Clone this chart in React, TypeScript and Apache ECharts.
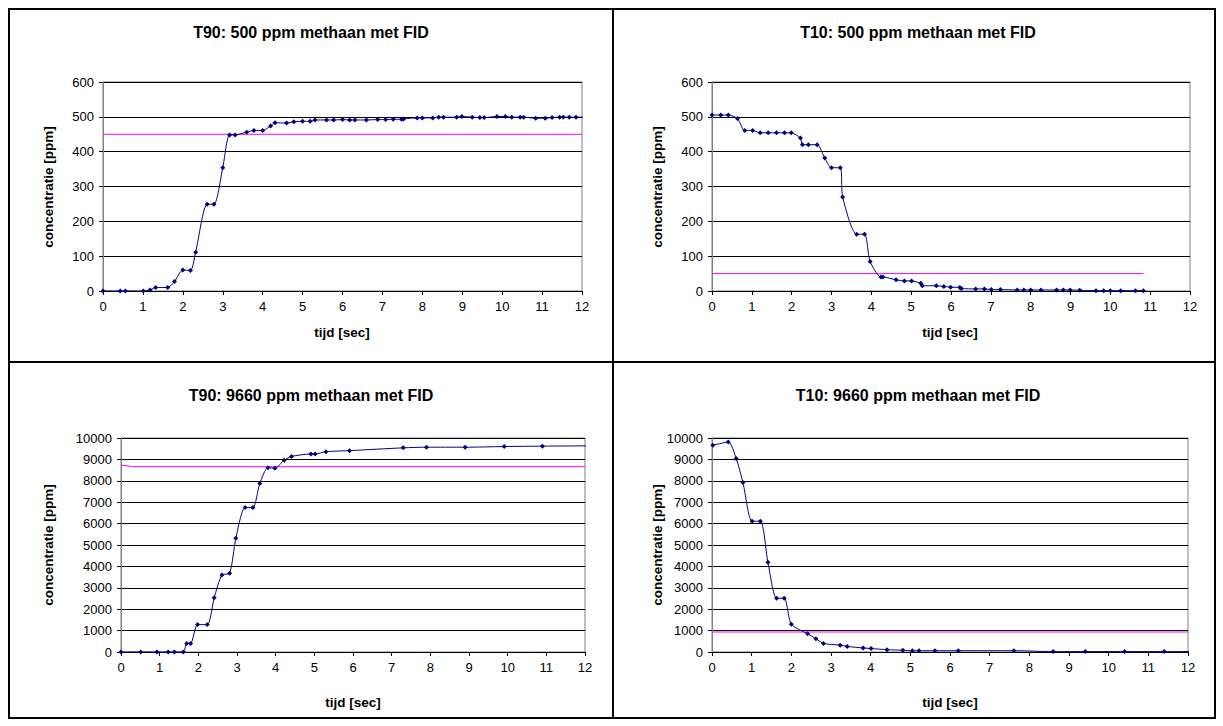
import React, { useEffect, useRef } from "react";
import * as echarts from "echarts";

// ---------- DATA ----------
const titles = [
  "T90: 500 ppm methaan met FID",
  "T10: 500 ppm methaan met FID",
  "T90: 9660 ppm methaan met FID",
  "T10: 9660 ppm methaan met FID",
];
const xAxisName = "tijd [sec]";
const yAxisName = "concentratie [ppm]";

const t90_500_time = [0, 0.43, 0.56, 1.01, 1.18, 1.32, 1.62, 1.79, 2.0, 2.19, 2.32, 2.61, 2.78, 3.0, 3.17, 3.31, 3.6, 3.78, 4.0, 4.2, 4.31, 4.6, 4.78, 5.0, 5.19, 5.31, 5.6, 5.78, 6.0, 6.18, 6.31, 6.6, 6.88, 7.08, 7.27, 7.48, 7.53, 7.87, 8.0, 8.26, 8.41, 8.53, 8.86, 8.99, 9.25, 9.44, 9.55, 9.87, 10.08, 10.24, 10.45, 10.54, 10.84, 11.08, 11.25, 11.44, 11.53, 11.68, 11.85, 12.2];
const t90_500_ppm = [0, 0, 0, 0, 3, 10, 10, 27, 60, 59, 111, 249, 249, 354, 448, 448, 456, 461, 461, 474, 483, 482, 486, 487, 487, 491, 491, 491, 492, 491, 491, 491, 492, 492, 493, 493, 494, 497, 497, 497, 499, 499, 499, 501, 499, 498, 498, 501, 501, 499, 499, 499, 496, 496, 498, 499, 499, 499, 499, 499];
const t90_500_limit = [[0, 450], [12, 450]];

const t10_500_time = [0, 0.22, 0.41, 0.64, 0.82, 1.02, 1.21, 1.41, 1.62, 1.82, 1.99, 2.22, 2.27, 2.42, 2.64, 2.83, 3.0, 3.22, 3.28, 3.63, 3.83, 3.97, 4.24, 4.29, 4.62, 4.83, 5.01, 5.24, 5.28, 5.63, 5.82, 5.99, 6.22, 6.26, 6.62, 6.84, 7.01, 7.24, 7.66, 7.83, 8.0, 8.26, 8.65, 8.82, 8.99, 9.23, 9.64, 9.83, 10.0, 10.26, 10.63, 10.83];
const t10_500_ppm = [505, 505, 505, 495, 461, 461, 454, 454, 454, 454, 454, 439, 420, 420, 420, 382, 354, 354, 270, 163, 163, 85, 40, 40, 32, 29, 29, 22, 15, 15, 13, 11, 10, 7, 6, 6, 4, 4, 3, 3, 3, 3, 3, 3, 3, 2, 1, 1, 1, 1, 1, 1];
const t10_500_limit = [[0, 50], [10.83, 50]];

const t90_9660_time = [0, 0.51, 0.93, 1.22, 1.38, 1.61, 1.7, 1.8, 1.98, 2.23, 2.41, 2.61, 2.81, 2.97, 3.21, 3.41, 3.59, 3.8, 3.98, 4.22, 4.41, 4.91, 5.02, 5.3, 5.91, 7.3, 7.9, 8.9, 9.91, 10.9, 12.3];
const t90_9660_ppm = [0, 0, 0, 0, 0, 0, 400, 400, 1280, 1280, 2530, 3600, 3680, 5310, 6750, 6750, 7870, 8610, 8590, 8960, 9140, 9250, 9250, 9360, 9410, 9540, 9570, 9570, 9600, 9620, 9635];
const t90_9660_limit = [[0, 8740], [0.3, 8660], [12, 8660]];

const t10_9660_time = [0.02, 0.41, 0.61, 0.78, 1.01, 1.22, 1.41, 1.63, 1.82, 2.0, 2.41, 2.62, 2.81, 3.23, 3.41, 3.81, 4.01, 4.41, 4.81, 5.05, 5.22, 5.62, 6.21, 7.61, 8.6, 9.41, 10.4, 11.4, 12.3];
const t10_9660_ppm = [9660, 9810, 9040, 7920, 6110, 6110, 4190, 2510, 2510, 1300, 850, 620, 400, 320, 260, 190, 160, 110, 80, 60, 60, 60, 60, 60, 20, 20, 20, 20, 20];
const t10_9660_limit = [[0, 935], [12, 935]];

const yMax = [600, 600, 10000, 10000];
const yStep = [100, 100, 1000, 1000];

const zip = (a: number[], b: number[]) => a.map((v, i) => [v, b[i]]);
const seriesData = [
  zip(t90_500_time, t90_500_ppm),
  zip(t10_500_time, t10_500_ppm),
  zip(t90_9660_time, t90_9660_ppm),
  zip(t10_9660_time, t10_9660_ppm),
];
const limitData = [t90_500_limit, t10_500_limit, t90_9660_limit, t10_9660_limit];

// ---------- LAYOUT ----------
const FONT = '"Liberation Sans", Arial, sans-serif';
const grids = [
  { left: 103, top: 82, width: 479, height: 209 },
  { left: 712, top: 82, width: 478, height: 209 },
  { left: 121, top: 438, width: 464, height: 214 },
  { left: 712, top: 438, width: 476, height: 214 },
];
const titlePos = [
  [311, 32], [918, 32], [311, 395], [918, 395],
];
const xNamePos = [
  [342, 332], [950, 332], [353, 702], [950, 702],
];
const yNamePos = [
  [48, 187], [657, 187], [48, 545], [657, 545],
];

export default function App() {
  const ref = useRef<HTMLDivElement>(null);
  useEffect(() => {
    const chart = echarts.init(ref.current!, null, { renderer: "svg" });
    const graphic: any[] = [
      { type: "rect", shape: { x: 9, y: 9, width: 1206, height: 709 }, style: { fill: "none", stroke: "#000", lineWidth: 2 } },
      { type: "line", shape: { x1: 613, y1: 9, x2: 613, y2: 718 }, style: { stroke: "#000", lineWidth: 2 } },
      { type: "line", shape: { x1: 9, y1: 362, x2: 1215, y2: 362 }, style: { stroke: "#000", lineWidth: 2 } },
    ];
    for (let i = 0; i < 4; i++) {
      graphic.push({
        type: "text", x: titlePos[i][0], y: titlePos[i][1],
        style: { text: titles[i], font: `bold 16px ${FONT}`, fill: "#000", align: "center", verticalAlign: "middle" },
      });
      graphic.push({
        type: "text", x: xNamePos[i][0], y: xNamePos[i][1],
        style: { text: xAxisName, font: `bold 13.5px ${FONT}`, fill: "#000", align: "center", verticalAlign: "middle" },
      });
      graphic.push({
        type: "text", x: yNamePos[i][0], y: yNamePos[i][1], rotation: Math.PI / 2,
        style: { text: yAxisName, font: `bold 13.5px ${FONT}`, fill: "#000", align: "center", verticalAlign: "middle" },
      });
    }
    const option: any = {
      animation: false,
      backgroundColor: "#fff",
      textStyle: { fontFamily: FONT },
      graphic,
      grid: grids.map((g) => ({ ...g, show: true, borderColor: "#808080", borderWidth: 1, backgroundColor: "transparent" })),
      xAxis: grids.map((_, i) => ({
        gridIndex: i, type: "value", min: 0, max: 12, interval: 1,
        axisLine: { show: true, onZero: false, lineStyle: { color: "#000", width: 1 } },
        axisTick: { show: true, inside: false, length: 4, lineStyle: { color: "#000" } },
        axisLabel: { color: "#000", fontSize: 13, fontFamily: FONT, margin: 9, formatter: (v: number) => String(v) },
        splitLine: { show: false },
      })),
      yAxis: grids.map((_, i) => ({
        gridIndex: i, type: "value", min: 0, max: yMax[i], interval: yStep[i],
        axisLine: { show: true, lineStyle: { color: "#808080", width: 1 } },
        axisTick: { show: true, inside: false, length: 4, lineStyle: { color: "#000" } },
        axisLabel: { color: "#000", fontSize: 13, fontFamily: FONT, margin: 9, formatter: (v: number) => String(v) },
        splitLine: { show: true, lineStyle: { color: "#000", width: 1 } },
      })),
      series: [
        ...seriesData.map((d, i) => ({
          type: "line", xAxisIndex: i, yAxisIndex: i, data: d,
          smooth: 0.25, clip: true,
          symbol: "diamond", symbolSize: 5,
          itemStyle: { color: "#000080" },
          lineStyle: { color: "#000080", width: 1 },
          z: 3,
        })),
        ...limitData.map((d, i) => ({
          type: "line", xAxisIndex: i, yAxisIndex: i, data: d,
          symbol: "none", smooth: false,
          lineStyle: { color: "#FF00FF", width: 1 },
          z: 2,
        })),
      ],
    };
    chart.setOption(option);
    return () => chart.dispose();
  }, []);
  return (
    <div
      ref={ref}
      style={{ position: "absolute", left: 0, top: 0, width: 1223, height: 726, background: "#fff" }}
    />
  );
}
